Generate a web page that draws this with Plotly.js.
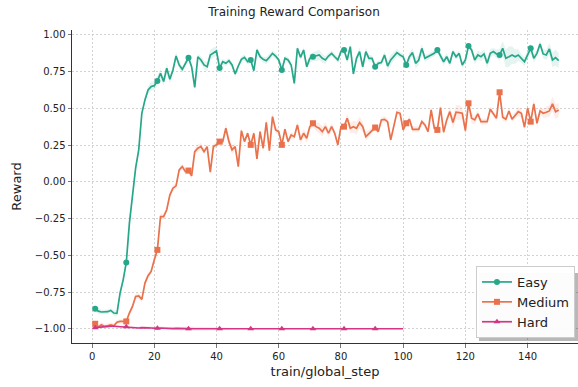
<!DOCTYPE html>
<html>
<head>
<meta charset="utf-8">
<script src="https://cdn.plot.ly/plotly-3.0.1.min.js"></script>
<style>html,body{margin:0;padding:0;background:#fff;}#chart{width:578px;height:387px;}</style>
</head>
<body>
<div id="chart"></div>
<script>
// ---- data ----
const seriesNames = ["Easy", "Medium", "Hard"];

const easyReward = [
  -0.864,-0.880,-0.886,-0.886,-0.884,-0.875,-0.893,-0.895,-0.757,-0.667,
  -0.549,-0.281,-0.077,0.093,0.218,0.467,0.558,0.626,0.649,0.655,
  0.687,0.739,0.683,0.774,0.699,0.762,0.857,0.796,0.766,0.807,
  0.845,0.784,0.643,0.852,0.830,0.796,0.784,0.864,0.880,0.891,
  0.775,0.818,0.807,0.825,0.796,0.734,0.789,0.834,0.848,0.818,
  0.830,0.757,0.898,0.852,0.834,0.825,0.848,0.875,0.857,0.830,
  0.762,0.841,0.830,0.796,0.671,0.909,0.848,0.898,0.784,0.841,
  0.852,0.857,0.864,0.841,0.830,0.857,0.875,0.852,0.830,0.887,
  0.898,0.830,0.921,0.735,0.841,0.887,0.784,0.887,0.841,0.841,
  0.784,0.807,0.812,0.864,0.789,0.830,0.852,0.880,0.864,0.852,
  0.796,0.852,0.880,0.807,0.830,0.909,0.841,0.852,0.864,0.875,
  0.898,0.857,0.818,0.852,0.807,0.887,0.852,0.875,0.796,0.830,
  0.925,0.898,0.830,0.864,0.852,0.871,0.807,0.875,0.887,0.871,
  0.864,0.909,0.841,0.852,0.864,0.852,0.864,0.841,0.818,0.864,
  0.909,0.841,0.875,0.938,0.871,0.864,0.905,0.830,0.846,0.825
];
const easyStd = [
  0.02,0.02,0.015,0.015,0.015,0.015,0.02,0.02,0.02,0.02,
  0.02,0.02,0.02,0.02,0.02,0.02,0.02,0.025,0.03,0.03,
  0.035,0.035,0.03,0.03,0.03,0.025,0.025,0.025,0.02,0.02,
  0.02,0.02,0.02,0.02,0.025,0.03,0.03,0.035,0.035,0.03,
  0.025,0.02,0.02,0.02,0.02,0.02,0.02,0.02,0.02,0.02,
  0.02,0.02,0.02,0.02,0.02,0.025,0.025,0.02,0.02,0.02,
  0.02,0.02,0.02,0.02,0.02,0.02,0.02,0.02,0.025,0.03,
  0.03,0.035,0.035,0.03,0.025,0.02,0.02,0.02,0.02,0.02,
  0.02,0.02,0.02,0.02,0.025,0.03,0.03,0.03,0.025,0.02,
  0.02,0.02,0.02,0.025,0.03,0.035,0.03,0.025,0.02,0.02,
  0.02,0.025,0.03,0.035,0.035,0.03,0.025,0.02,0.02,0.02,
  0.02,0.02,0.025,0.025,0.025,0.02,0.02,0.02,0.02,0.02,
  0.02,0.025,0.03,0.03,0.03,0.03,0.035,0.03,0.025,0.03,
  0.04,0.05,0.06,0.07,0.06,0.05,0.04,0.03,0.03,0.03,
  0.03,0.03,0.025,0.025,0.03,0.035,0.04,0.05,0.055,0.05
];

const mediumReward = [
  -0.966,-0.988,-0.973,-0.984,-0.980,-0.973,-0.980,-0.955,-0.950,-0.950,
  -0.950,-0.893,-0.848,-0.780,-0.776,-0.800,-0.689,-0.639,-0.610,-0.530,
  -0.463,-0.236,-0.236,-0.190,-0.090,-0.043,-0.027,0.082,0.104,0.070,
  0.077,0.041,0.206,0.229,0.240,0.206,0.240,0.066,0.240,0.252,
  0.274,0.274,0.365,0.274,0.218,0.240,0.104,0.349,0.274,0.331,
  0.252,0.331,0.156,0.342,0.229,0.406,0.213,0.444,0.354,0.342,
  0.252,0.358,0.274,0.320,0.308,0.388,0.286,0.331,0.297,0.376,
  0.399,0.376,0.365,0.342,0.376,0.331,0.376,0.331,0.252,0.376,
  0.376,0.433,0.365,0.376,0.365,0.404,0.376,0.308,0.331,0.354,
  0.370,0.342,0.422,0.426,0.410,0.286,0.376,0.474,0.467,0.354,
  0.399,0.426,0.358,0.358,0.358,0.410,0.388,0.342,0.490,0.365,
  0.354,0.506,0.338,0.422,0.478,0.404,0.474,0.472,0.467,0.349,
  0.535,0.433,0.422,0.463,0.410,0.410,0.410,0.494,0.467,0.433,
  0.610,0.440,0.426,0.483,0.426,0.451,0.478,0.467,0.372,0.501,
  0.410,0.531,0.399,0.483,0.467,0.474,0.483,0.531,0.478,0.490
];
const mediumStd = [
  0.015,0.015,0.015,0.015,0.015,0.015,0.015,0.015,0.015,0.015,
  0.015,0.02,0.02,0.02,0.02,0.02,0.02,0.02,0.02,0.02,
  0.02,0.02,0.02,0.02,0.02,0.02,0.02,0.02,0.02,0.02,
  0.02,0.02,0.02,0.025,0.025,0.02,0.02,0.02,0.02,0.02,
  0.02,0.025,0.03,0.035,0.03,0.025,0.02,0.02,0.02,0.02,
  0.02,0.02,0.02,0.02,0.025,0.03,0.035,0.03,0.025,0.02,
  0.02,0.02,0.02,0.02,0.02,0.025,0.03,0.03,0.03,0.025,
  0.025,0.03,0.035,0.035,0.03,0.03,0.025,0.02,0.02,0.02,
  0.02,0.03,0.035,0.04,0.045,0.04,0.035,0.03,0.025,0.02,
  0.02,0.02,0.02,0.02,0.025,0.025,0.02,0.02,0.02,0.02,
  0.02,0.02,0.02,0.02,0.02,0.02,0.02,0.02,0.025,0.03,
  0.025,0.02,0.02,0.025,0.035,0.045,0.05,0.05,0.04,0.03,
  0.03,0.035,0.03,0.025,0.02,0.02,0.02,0.02,0.02,0.02,
  0.025,0.025,0.02,0.02,0.02,0.025,0.03,0.03,0.025,0.025,
  0.03,0.03,0.025,0.025,0.03,0.035,0.04,0.05,0.05,0.045
];

const hardReward = [
  -0.993,-0.990,-0.988,-0.985,-0.985,-0.982,-0.983,-0.985,-0.987,-0.988,
  -0.987,-0.990,-0.992,-0.993,-0.995,-0.993,-0.996,-0.994,-0.995,-0.997,
  -0.997,-0.995,-0.997,-0.998,-0.998,-0.999,-0.998,-0.999,-1.000,-1.000,
  -1.000,-1.000,-1.000,-1.000,-1.000,-1.000,-1.000,-1.000,-1.000,-1.000,
  -1.000,-1.000,-1.000,-1.000,-1.000,-1.000,-1.000,-1.000,-1.000,-1.000,
  -1.000,-1.000,-1.000,-1.000,-1.000,-1.000,-1.000,-1.000,-1.000,-1.000,
  -1.000,-1.000,-1.000,-1.000,-1.000,-1.000,-1.000,-1.000,-1.000,-1.000,
  -1.000,-1.000,-1.000,-1.000,-1.000,-1.000,-1.000,-1.000,-1.000,-1.000,
  -1.000,-1.000,-1.000,-1.000,-1.000,-1.000,-1.000,-1.000,-1.000,-1.000,
  -1.000,-1.000,-1.000,-1.000,-1.000,-1.000,-1.000,-1.000,-1.000,-1.000
];
const hardStd = [
  0.005,0.005,0.006,0.006,0.008,0.008,0.008,0.008,0.008,0.008,
  0.008,0.008,0.008,0.008,0.01,0.01,0.01,0.01,0.01,0.01,
  0.01,0.01,0.01,0.01,0.01,0.012,0.012,0.012,0.014,0.014,
  0.014,0.014,0.014,0.014,0.014,0.012,0.012,0.012,0.01,0.01,
  0.01,0.008,0.006,0.005,0.004,0.003,0.003,0.003,0.003,0.003,
  0.003,0.003,0.003,0.003,0.003,0.003,0.003,0.003,0.003,0.003,
  0.003,0.003,0.003,0.003,0.003,0.003,0.003,0.003,0.003,0.003,
  0.003,0.003,0.003,0.003,0.003,0.003,0.003,0.003,0.003,0.003,
  0.003,0.003,0.003,0.003,0.003,0.003,0.003,0.003,0.003,0.003,
  0.003,0.003,0.003,0.003,0.003,0.003,0.003,0.003,0.003,0.003
];

const xTicks = [0, 20, 40, 60, 80, 100, 120, 140];
const yTicks = [-1.0, -0.75, -0.5, -0.25, 0.0, 0.25, 0.5, 0.75, 1.0];

// ---- styling ----
const colors = ["#27a789", "#e9714b", "#d33682"];
const bandColors = ["rgba(39,167,137,0.12)", "rgba(233,113,75,0.13)", "rgba(211,54,130,0.12)"];
const symbols = ["circle", "square", "triangle-up"];
const markEvery = 10;

const allValues = [easyReward, mediumReward, hardReward];
const allStd = [easyStd, mediumStd, hardStd];

const traces = [];
allValues.forEach((vals, k) => {
  const steps = vals.map((_, i) => i + 1);
  const up = vals.map((v, i) => v + allStd[k][i]);
  const lo = vals.map((v, i) => v - allStd[k][i]);
  traces.push({x: steps, y: lo, mode: "lines", line: {width: 0, color: "rgba(0,0,0,0)"},
               showlegend: false, hoverinfo: "skip"});
  traces.push({x: steps, y: up, mode: "lines", line: {width: 0, color: "rgba(0,0,0,0)"},
               fill: "tonexty", fillcolor: bandColors[k], showlegend: false, hoverinfo: "skip"});
});
allValues.forEach((vals, k) => {
  const steps = vals.map((_, i) => i + 1);
  traces.push({x: steps, y: vals, mode: "lines", line: {color: colors[k], width: 1.7},
               showlegend: false, name: seriesNames[k]});
  const mx = steps.filter((_, i) => i % markEvery === 0);
  const my = vals.filter((_, i) => i % markEvery === 0);
  traces.push({x: mx, y: my, mode: "markers",
               marker: {symbol: symbols[k], size: 6, color: colors[k]},
               showlegend: false, name: seriesNames[k]});
});
allValues.forEach((vals, k) => {
  traces.push({x: [null], y: [null], mode: "lines+markers", name: seriesNames[k],
               line: {color: colors[k], width: 1.7},
               marker: {symbol: symbols[k], size: 6, color: colors[k]}});
});

// pixel -> paper helpers for the legend shadow
const plotL = 72, plotR = 578, plotT = 30, plotB = 343;
const px = v => (v - plotL) / (plotR - plotL);
const py = v => (plotB - v) / (plotB - plotT);

const font = "DejaVu Sans, Liberation Sans, sans-serif";
const layout = {
  width: 578, height: 387,
  margin: {l: 72, r: 0, t: 30, b: 44, pad: 0},
  paper_bgcolor: "#ffffff", plot_bgcolor: "#ffffff",
  font: {family: font, size: 10, color: "#222"},
  title: {text: "Training Reward Comparison", font: {size: 12, color: "#222"},
          x: 294 / 578, xref: "container", xanchor: "center",
          y: 1 - 12 / 387, yref: "container", yanchor: "middle"},
  xaxis: {
    range: [-6.45, 156.2], tickvals: xTicks, ticktext: xTicks.map(String),
    showgrid: true, gridcolor: "#c8c8c8", griddash: "2px,2px", gridwidth: 0.8,
    showline: true, linecolor: "#333", linewidth: 1, zeroline: false,
    ticks: "outside", ticklen: 3.5, tickwidth: 0.8, tickcolor: "#555",
    tickfont: {size: 10, color: "#222"},
    title: {text: "train/global_step", font: {size: 13, color: "#222"}, standoff: 6}
  },
  yaxis: {
    range: [-1.097, 1.034], tickvals: yTicks, tickformat: ".2f",
    showgrid: true, gridcolor: "#c8c8c8", griddash: "2px,2px", gridwidth: 0.8,
    showline: true, linecolor: "#333", linewidth: 1, zeroline: false,
    ticks: "outside", ticklen: 3.5, tickwidth: 0.8, tickcolor: "#555",
    tickfont: {size: 10, color: "#222"},
    title: {text: "Reward", font: {size: 13, color: "#222"}, standoff: 10}
  },
  legend: {
    x: 0.994, xanchor: "right", y: 0.016, yanchor: "bottom",
    traceorder: "normal",
    bgcolor: "rgba(255,255,255,0.95)", bordercolor: "#cccccc", borderwidth: 1,
    font: {size: 13, color: "#222"}, tracegroupgap: 0, itemwidth: 30
  },
  shapes: [{
    type: "rect", xref: "paper", yref: "paper", layer: "above",
    x0: px(479), x1: px(578), y0: py(341), y1: py(273),
    fillcolor: "rgba(0,0,0,0.28)", line: {width: 0}
  }],
  showlegend: true
};

Plotly.newPlot("chart", traces, layout, {staticPlot: true, displayModeBar: false});
</script>
</body>
</html>
